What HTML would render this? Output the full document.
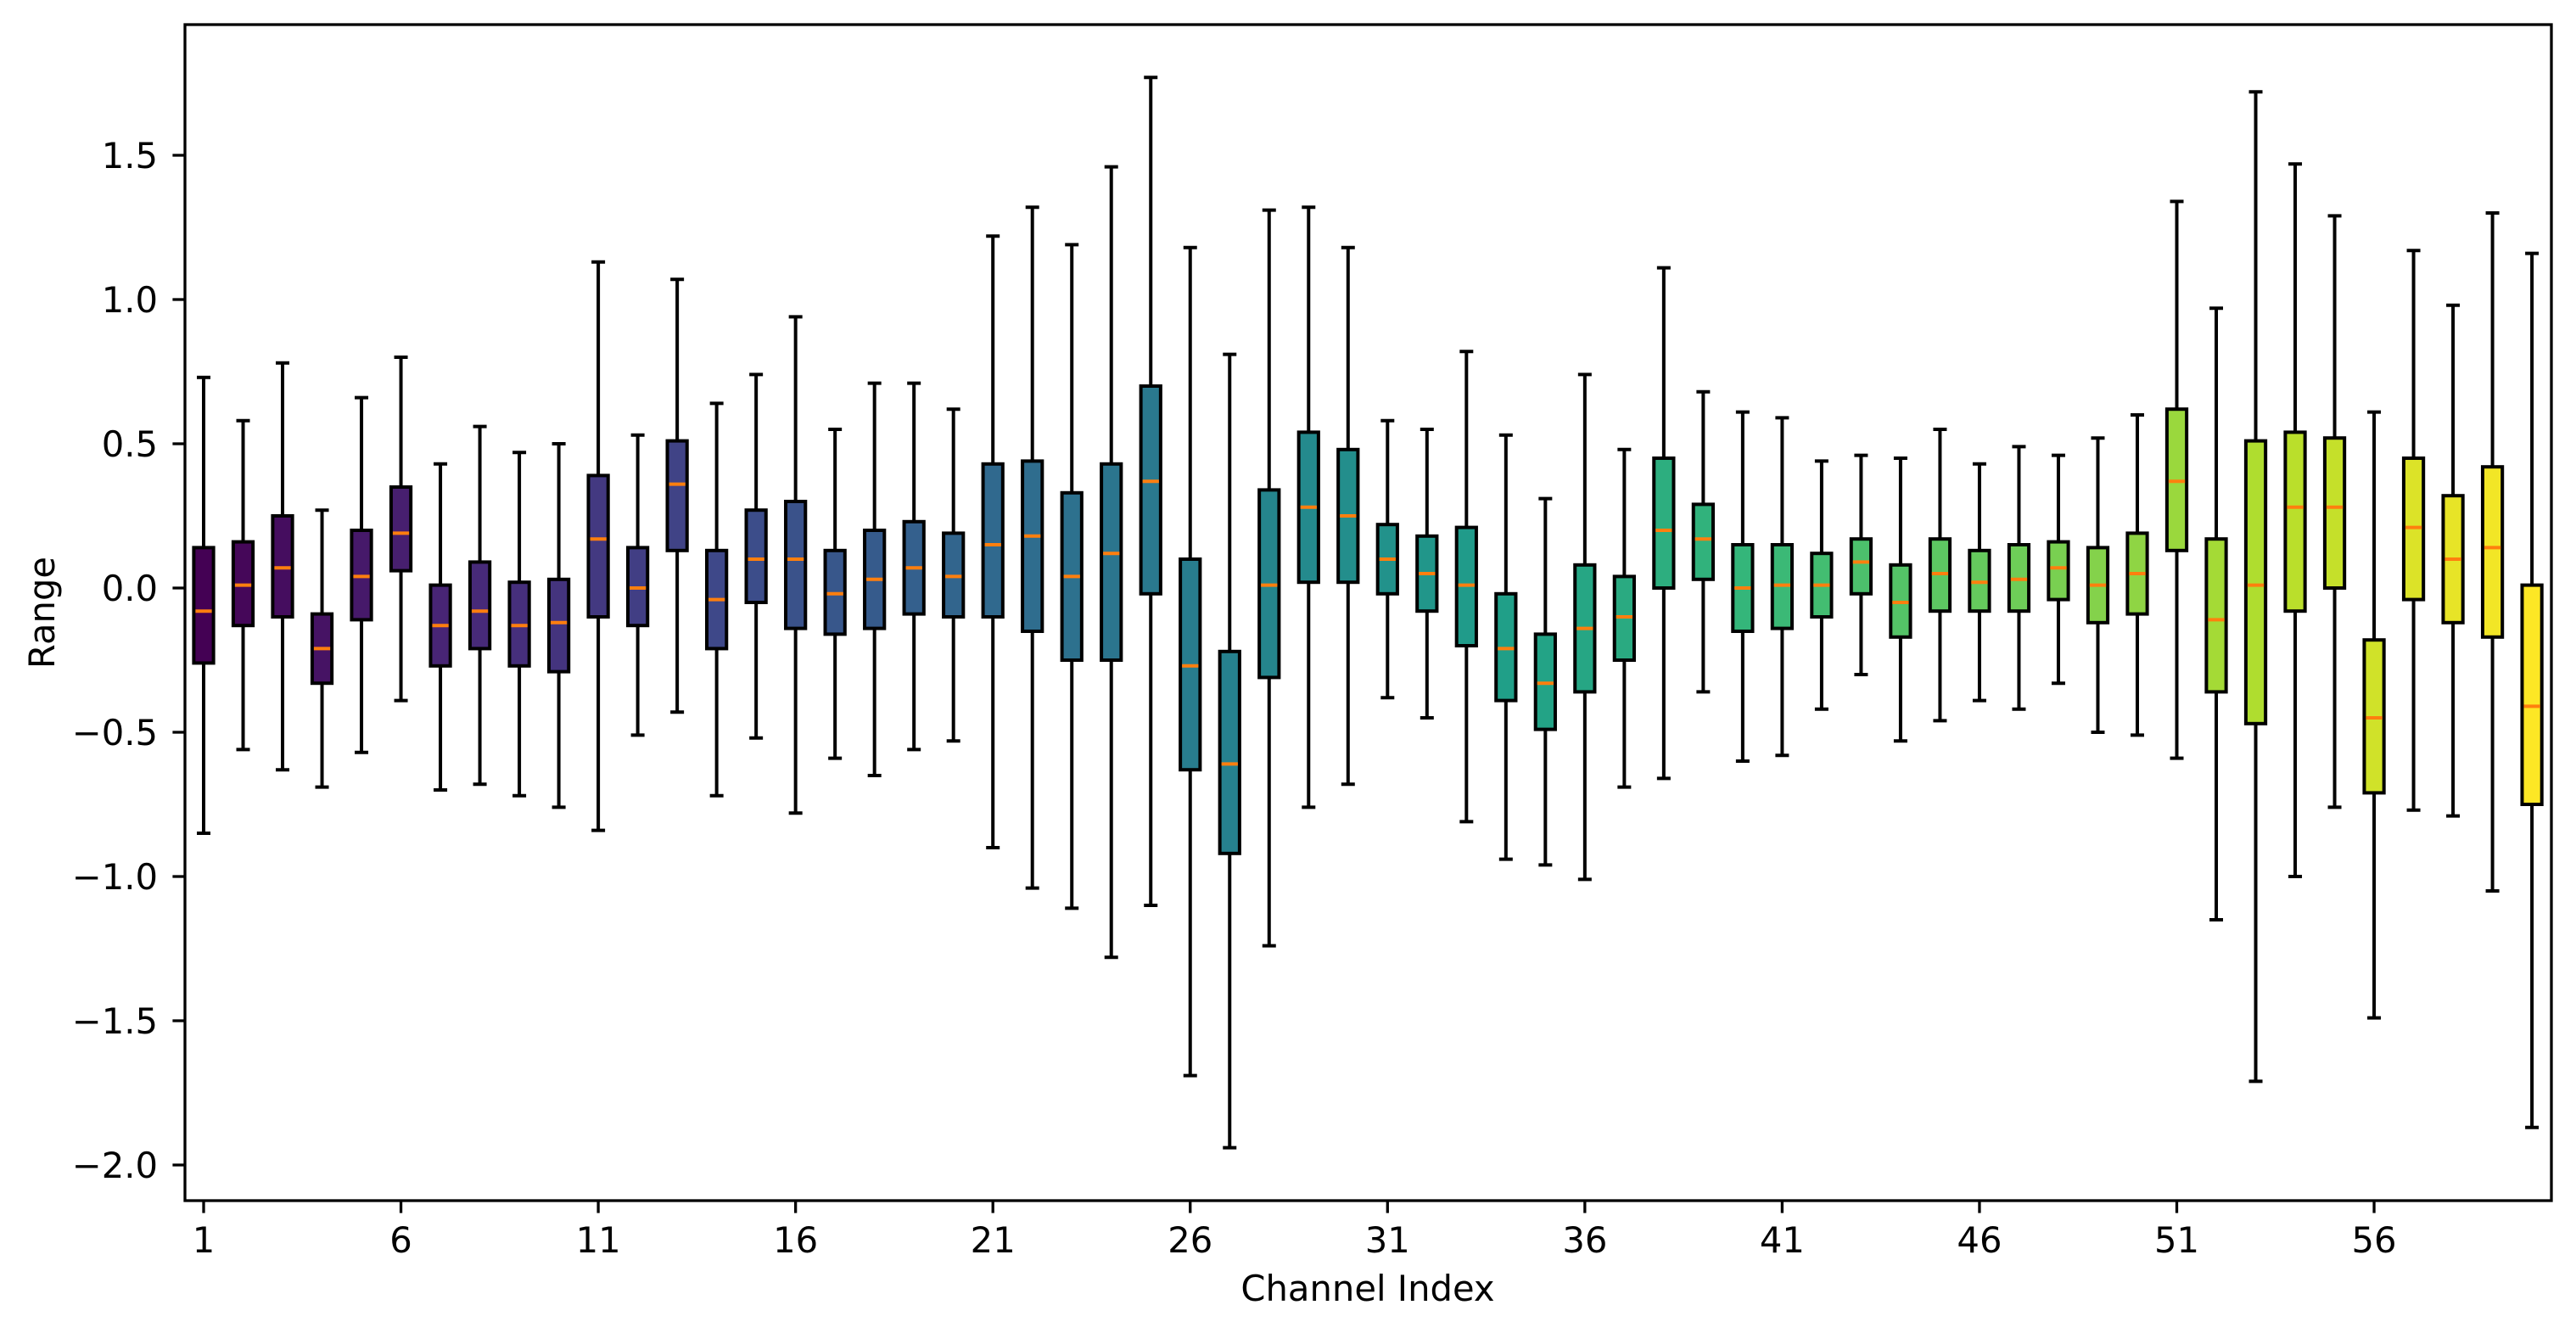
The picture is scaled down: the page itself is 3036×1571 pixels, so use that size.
<!DOCTYPE html>
<html><head><meta charset="utf-8"><style>
html,body{margin:0;padding:0;background:#fff;}
svg{display:block;font-family:"DejaVu Sans","Liberation Sans",sans-serif;}
</style></head>
<body>
<svg id="chart" width="3036" height="1571" viewBox="0 0 3036 1571" xmlns="http://www.w3.org/2000/svg">
<rect x="0" y="0" width="3036" height="1571" fill="#fff"/>
<g id="boxes"></g>
<g id="axes"></g>
<text x="1612" y="1533" font-size="41.7" text-anchor="middle">Channel Index</text>
<text transform="translate(64,722) rotate(-90)" font-size="41.7" text-anchor="middle">Range</text>
</svg>
<script>
const whiskerHigh = [0.73,0.58,0.78,0.27,0.66,0.80,0.43,0.56,0.47,0.50,1.13,0.53,1.07,0.64,0.74,0.94,0.55,0.71,0.71,0.62,1.22,1.32,1.19,1.46,1.77,1.18,0.81,1.31,1.32,1.18,0.58,0.55,0.82,0.53,0.31,0.74,0.48,1.11,0.68,0.61,0.59,0.44,0.46,0.45,0.55,0.43,0.49,0.46,0.52,0.60,1.34,0.97,1.72,1.47,1.29,0.61,1.17,0.98,1.30,1.16];
const q3Values = [0.14,0.16,0.25,-0.09,0.20,0.35,0.01,0.09,0.02,0.03,0.39,0.14,0.51,0.13,0.27,0.30,0.13,0.20,0.23,0.19,0.43,0.44,0.33,0.43,0.70,0.10,-0.22,0.34,0.54,0.48,0.22,0.18,0.21,-0.02,-0.16,0.08,0.04,0.45,0.29,0.15,0.15,0.12,0.17,0.08,0.17,0.13,0.15,0.16,0.14,0.19,0.62,0.17,0.51,0.54,0.52,-0.18,0.45,0.32,0.42,0.01];
const medianValues = [-0.08,0.01,0.07,-0.21,0.04,0.19,-0.13,-0.08,-0.13,-0.12,0.17,0.00,0.36,-0.04,0.10,0.10,-0.02,0.03,0.07,0.04,0.15,0.18,0.04,0.12,0.37,-0.27,-0.61,0.01,0.28,0.25,0.10,0.05,0.01,-0.21,-0.33,-0.14,-0.10,0.20,0.17,0.00,0.01,0.01,0.09,-0.05,0.05,0.02,0.03,0.07,0.01,0.05,0.37,-0.11,0.01,0.28,0.28,-0.45,0.21,0.10,0.14,-0.41];
const q1Values = [-0.26,-0.13,-0.10,-0.33,-0.11,0.06,-0.27,-0.21,-0.27,-0.29,-0.10,-0.13,0.13,-0.21,-0.05,-0.14,-0.16,-0.14,-0.09,-0.10,-0.10,-0.15,-0.25,-0.25,-0.02,-0.63,-0.92,-0.31,0.02,0.02,-0.02,-0.08,-0.20,-0.39,-0.49,-0.36,-0.25,0.00,0.03,-0.15,-0.14,-0.10,-0.02,-0.17,-0.08,-0.08,-0.08,-0.04,-0.12,-0.09,0.13,-0.36,-0.47,-0.08,0.00,-0.71,-0.04,-0.12,-0.17,-0.75];
const whiskerLow = [-0.85,-0.56,-0.63,-0.69,-0.57,-0.39,-0.70,-0.68,-0.72,-0.76,-0.84,-0.51,-0.43,-0.72,-0.52,-0.78,-0.59,-0.65,-0.56,-0.53,-0.90,-1.04,-1.11,-1.28,-1.10,-1.69,-1.94,-1.24,-0.76,-0.68,-0.38,-0.45,-0.81,-0.94,-0.96,-1.01,-0.69,-0.66,-0.36,-0.60,-0.58,-0.42,-0.30,-0.53,-0.46,-0.39,-0.42,-0.33,-0.50,-0.51,-0.59,-1.15,-1.71,-1.00,-0.76,-1.49,-0.77,-0.79,-1.05,-1.87];
const xTickLabels = ["1","6","11","16","21","26","31","36","41","46","51","56"];
const yTickValues = [-2.0,-1.5,-1.0,-0.5,0.0,0.5,1.0,1.5];

const NS = "http://www.w3.org/2000/svg";
const L = 218, R = 3007, T = 29, B = 1415;
function xScale(i){ return 240 + (i - 1) * 46.51; }
function yScale(v){ return 693 - 340 * v; }
const vir = [[68,1,84],[72,40,120],[62,73,137],[49,104,142],[38,130,142],[31,158,137],[53,183,121],[109,205,89],[180,222,44],[253,231,37]];
function viridis(t){
  const p = t * (vir.length - 1), k = Math.min(Math.floor(p), vir.length - 2), f = p - k;
  const c = vir[k].map((a, j) => Math.round(a + (vir[k+1][j] - a) * f));
  return "rgb(" + c.join(",") + ")";
}
function mk(tag, attrs, parent){
  const e = document.createElementNS(NS, tag);
  for (const k in attrs) e.setAttribute(k, attrs[k]);
  parent.appendChild(e); return e;
}
const gb = document.getElementById("boxes");
const n = medianValues.length;
const hw = 0.25 * 46.51, cw = 8;
for (let i = 0; i < n; i++){
  const cx = xScale(i + 1);
  const g = mk("g", {}, gb);
  
  
  const ln = {stroke:"#000","stroke-width":4};
  const w1 = mk("line", Object.assign({x1:cx,x2:cx,y1:yScale(q3Values[i]),y2:yScale(whiskerHigh[i])}, ln), g);
  
  
  const w2 = mk("line", Object.assign({x1:cx,x2:cx,y1:yScale(q1Values[i]),y2:yScale(whiskerLow[i])}, ln), g);
  
  
  const c1 = mk("line", Object.assign({x1:cx-cw,x2:cx+cw,y1:yScale(whiskerHigh[i]),y2:yScale(whiskerHigh[i])}, ln), g);
  
  
  const c2 = mk("line", Object.assign({x1:cx-cw,x2:cx+cw,y1:yScale(whiskerLow[i]),y2:yScale(whiskerLow[i])}, ln), g);
  
  
  const yt = yScale(q3Values[i]), yb = yScale(q1Values[i]);
  const r = mk("rect", {x:cx-hw,y:yt,width:2*hw,height:yb-yt,fill:viridis(i/(n-1)),stroke:"#000","stroke-width":4}, g);
  
  
  const m = mk("line", {x1:cx-hw+2,x2:cx+hw-2,y1:yScale(medianValues[i]),y2:yScale(medianValues[i]),stroke:"#ff7f0e","stroke-width":4}, g);
  
  
}
const ga = document.getElementById("axes");
const frame = mk("rect", {x:L,y:T,width:R-L,height:B-T,fill:"none",stroke:"#000","stroke-width":3.3}, ga);


xTickLabels.forEach(lbl => {
  const x = xScale(+lbl);
  const t = mk("line", {x1:x,x2:x,y1:B,y2:B+14.6,stroke:"#000","stroke-width":3.3}, ga);
  
  
  const tx = mk("text", {x:x,y:1476,"font-size":41.7,"text-anchor":"middle"}, ga);
  tx.textContent = lbl;
  
  
});
yTickValues.forEach(v => {
  const y = yScale(v);
  const t = mk("line", {x1:L-14.6,x2:L,y1:y,y2:y,stroke:"#000","stroke-width":3.3}, ga);
  
  
  const tx = mk("text", {x:186,y:y+15,"font-size":41.7,"text-anchor":"end"}, ga);
  tx.textContent = (v < 0 ? "\u2212" : "") + Math.abs(v).toFixed(1);
  
  
});
</script>
</body></html>
